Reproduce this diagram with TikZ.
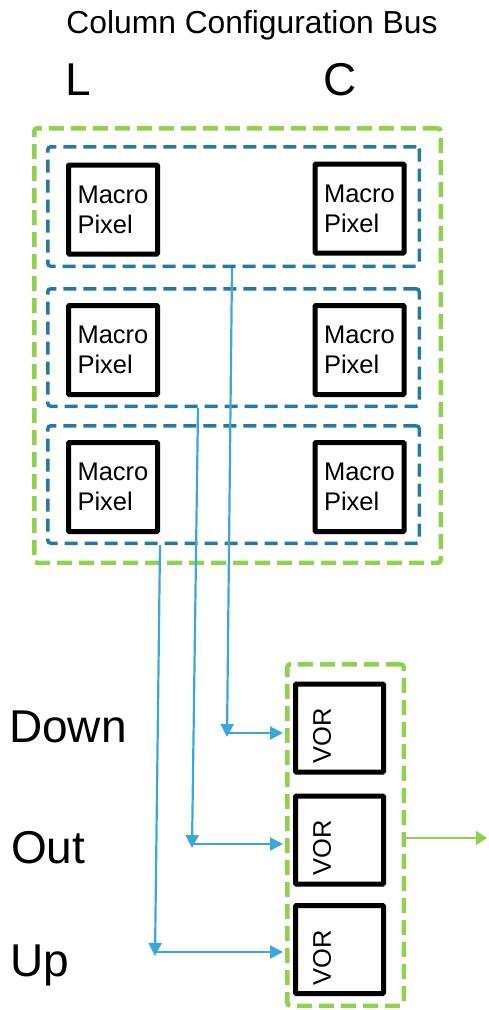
\documentclass[tikz,border=0pt]{standalone}
\usepackage{fontspec}
\setmainfont{Liberation Sans}
\usetikzlibrary{arrows.meta,positioning,calc}
\definecolor{grpgreen}{RGB}{146,208,80}
\definecolor{rowblue}{RGB}{40,120,160}
\definecolor{busblue}{RGB}{57,169,219}
\tikzset{
  cb/pixel/.style={draw, line width=5pt, rounded corners=1pt, minimum size=89pt, inner sep=0pt, align=left, font=\fontsize{25.5}{30}\selectfont},
  cb/row/.style={draw=rowblue, line width=3.5pt, dash pattern=on 13pt off 7pt, rounded corners=3pt, minimum width=371.5pt, minimum height=117.5pt},
  cb/group/.style={draw=grpgreen, line width=4.5pt, dash pattern=on 15pt off 7pt, rounded corners=3pt},
  cb/vor/.style={draw, line width=5pt, rounded corners=1pt, minimum size=88pt},
  cb/vortext/.style={rotate=90, inner sep=0pt, font=\fontsize{25.5}{30}\selectfont},
  cb/bus/.style={draw=busblue, line width=2.2pt, -{Triangle[width=13pt,length=13pt]}},
  cb/out/.style={draw=grpgreen, line width=2.2pt, -{Triangle[width=14pt,length=11pt]}},
  cb/big/.style={font=\fontsize{46}{50}\selectfont, inner sep=0pt, anchor=base west},
  cb/title/.style={font=\fontsize{31.8}{36}\selectfont, inner sep=0pt, anchor=base}
}

\begin{document}
\begin{tikzpicture}[x=1pt, y=-1pt]
  \useasboundingbox (0,0) rectangle (488,1010);

  % headings
  \node[cb/title] (title) at (252,33) {Column Configuration Bus};
  \node[cb/big] (colL) at (65,95) {L};
  \node[cb/big] (colC) at (323.5,95) {C};

  % pixel column
  \node[cb/group, minimum width=406.5pt, minimum height=434.5pt] (pgrp) at (237.5,345.5) {};
  \node[cb/row, minimum height=119.5pt] (row1) at (233.5,206.5) {};
  \node[cb/row] (row2) at (233.5,347.5) {};
  \node[cb/row] (row3) at (233.5,484.5) {};

  \node[cb/pixel] (p1l) at (113,209.5) {Macro\\Pixel};
  \node[cb/pixel] (p1c) at (359.5,208.5) {Macro\\Pixel};
  \node[cb/pixel] (p2l) at (113,350) {Macro\\Pixel};
  \node[cb/pixel] (p2c) at (359.5,350) {Macro\\Pixel};
  \node[cb/pixel] (p3l) at (113,487) {Macro\\Pixel};
  \node[cb/pixel] (p3c) at (359.5,487) {Macro\\Pixel};

  % VOR stack
  \node[cb/group, minimum width=116.5pt, minimum height=341.5pt] (vgrp) at (345.5,835) {};
  \node[cb/vor] (v1) at (339.5,728) {};
  \node[cb/vor] (v2) at (339.5,840) {};
  \node[cb/vor] (v3) at (339.5,949.5) {};
  \node[cb/vortext] (v1t) at ([xshift=-17.5pt,yshift=-8pt]v1.center) {VOR};
  \node[cb/vortext] (v2t) at ([xshift=-17.5pt,yshift=-8pt]v2.center) {VOR};
  \node[cb/vortext] (v3t) at ([xshift=-17.5pt,yshift=-8pt]v3.center) {VOR};

  % direction labels
  \node[cb/big] (lDown) at (9,742) {Down};
  \node[cb/big] (lOut) at (11,863) {Out};
  \node[cb/big] (lUp) at (10,976) {Up};

  % bus lines
  \coordinate (d1) at (227,733);
  \coordinate (d2) at (192,844);
  \coordinate (d3) at (155,952);
  \draw[cb/bus] ([xshift=-1.5pt]row1.south) -- ([yshift=-4pt]d1);
  \draw[cb/bus] ([xshift=-35.5pt]row2.south) -- ([yshift=-4pt]d2);
  \draw[cb/bus] ([xshift=-73.5pt]row3.south) -- ([yshift=-4pt]d3);
  \draw[cb/bus, shorten >=2pt] (d1) -- (d1 -| vgrp.west);
  \draw[cb/bus, shorten >=2pt] (d2) -- (d2 -| vgrp.west);
  \draw[cb/bus, shorten >=2pt] (d3) -- (d3 -| vgrp.west);

  % output
  \coordinate (o) at (487,838);
  \draw[cb/out] (vgrp.east |- o) -- (o);
\end{tikzpicture}
\end{document}
